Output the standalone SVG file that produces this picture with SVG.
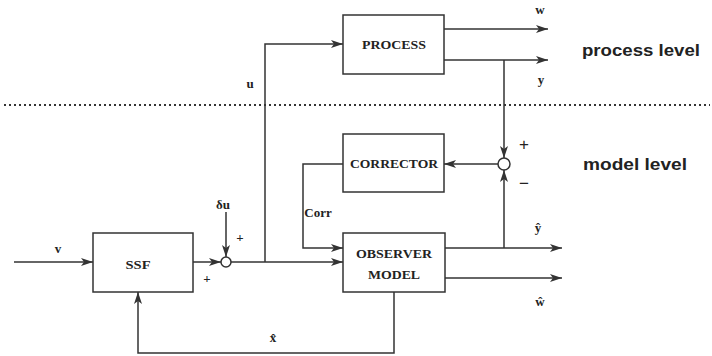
<svg xmlns="http://www.w3.org/2000/svg" width="712" height="356" viewBox="0 0 712 356">
<style>
.box{fill:#fff;stroke:#333;stroke-width:1.5}
.ln{fill:none;stroke:#333;stroke-width:1.5}
.bl{font-family:"Liberation Serif",serif;font-weight:bold;font-size:12px;fill:#222;text-anchor:middle}
.lb{font-family:"Liberation Serif",serif;font-weight:bold;font-size:13px;fill:#222;text-anchor:middle}
.lv{font-family:"Liberation Sans",sans-serif;font-weight:bold;font-size:17px;fill:#222}
.sg{font-family:"Liberation Sans",sans-serif;font-size:17px;fill:#222;text-anchor:middle}
</style>
<defs>
<marker id="ah" viewBox="0 0 12 8" refX="12" refY="4" markerWidth="12" markerHeight="8" markerUnits="userSpaceOnUse" orient="auto">
<path d="M0,0 L12,4 L0,8 L3,4 Z" fill="#333"/>
</marker>
</defs>
<line x1="4" y1="105" x2="710" y2="105" stroke="#333" stroke-width="2" stroke-dasharray="2,3"/>
<g id="connectors">
<path class="ln" d="M14,262 H93" marker-end="url(#ah)"/>
<path class="ln" d="M193,262 H221" marker-end="url(#ah)"/>
<path class="ln" d="M226,212 V257" marker-end="url(#ah)"/>
<path class="ln" d="M231,262 H343" marker-end="url(#ah)"/>
<path class="ln" d="M265,262 V44 H343" marker-end="url(#ah)"/>
<path class="ln" d="M444,29 H548" marker-end="url(#ah)"/>
<path class="ln" d="M444,60 H548" marker-end="url(#ah)"/>
<path class="ln" d="M504,60 V158" marker-end="url(#ah)"/>
<path class="ln" d="M498,164 H444" marker-end="url(#ah)"/>
<path class="ln" d="M343,164 H303 V248 H343" marker-end="url(#ah)"/>
<path class="ln" d="M445,248 H562" marker-end="url(#ah)"/>
<path class="ln" d="M445,278 H562" marker-end="url(#ah)"/>
<path class="ln" d="M504,248 V170" marker-end="url(#ah)"/>
<path class="ln" d="M394,292 V353 H138 V292" marker-end="url(#ah)"/>
</g>
<g id="process"><rect class="box" x="343" y="15" width="101" height="59"/><text class="bl" x="394" y="49" textLength="64" lengthAdjust="spacingAndGlyphs">PROCESS</text></g>
<g id="corrector"><rect class="box" x="343" y="134" width="101" height="58"/><text class="bl" x="394" y="168" textLength="88" lengthAdjust="spacingAndGlyphs">CORRECTOR</text></g>
<g id="ssf"><rect class="box" x="93" y="233" width="100" height="59"/><text class="bl" x="138" y="269" textLength="25" lengthAdjust="spacingAndGlyphs">SSF</text></g>
<g id="observer"><rect class="box" x="343" y="233" width="102" height="59"/><text class="bl" x="394" y="258" textLength="76" lengthAdjust="spacingAndGlyphs">OBSERVER</text><text class="bl" x="394" y="279" textLength="52" lengthAdjust="spacingAndGlyphs">MODEL</text></g>
<g id="sum1"><circle cx="226" cy="262" r="5" fill="#fff" stroke="#333" stroke-width="1.5"/></g>
<g id="sum2"><circle cx="504" cy="164" r="6" fill="#fff" stroke="#333" stroke-width="1.5"/></g>
<text class="lb" x="58" y="253" font-size="10">v</text>
<text class="lb" x="223" y="209">δu</text>
<text class="lb" x="240" y="242">+</text>
<text class="lb" x="207" y="283">+</text>
<text class="lb" x="250" y="88">u</text>
<text class="lb" x="540" y="14">w</text>
<text class="lb" x="541" y="84">y</text>
<text class="lb" x="318" y="217">Corr</text>
<text class="lb" x="538" y="232">ŷ</text>
<text class="lb" x="540" y="306">ŵ</text>
<text class="lb" x="273" y="342">x̂</text>
<text class="sg" x="524" y="150">+</text>
<text class="sg" x="524" y="189">−</text>
<text class="lv" x="582" y="56" textLength="118" lengthAdjust="spacingAndGlyphs">process level</text>
<text class="lv" x="583" y="170" textLength="104" lengthAdjust="spacingAndGlyphs">model level</text>
</svg>
